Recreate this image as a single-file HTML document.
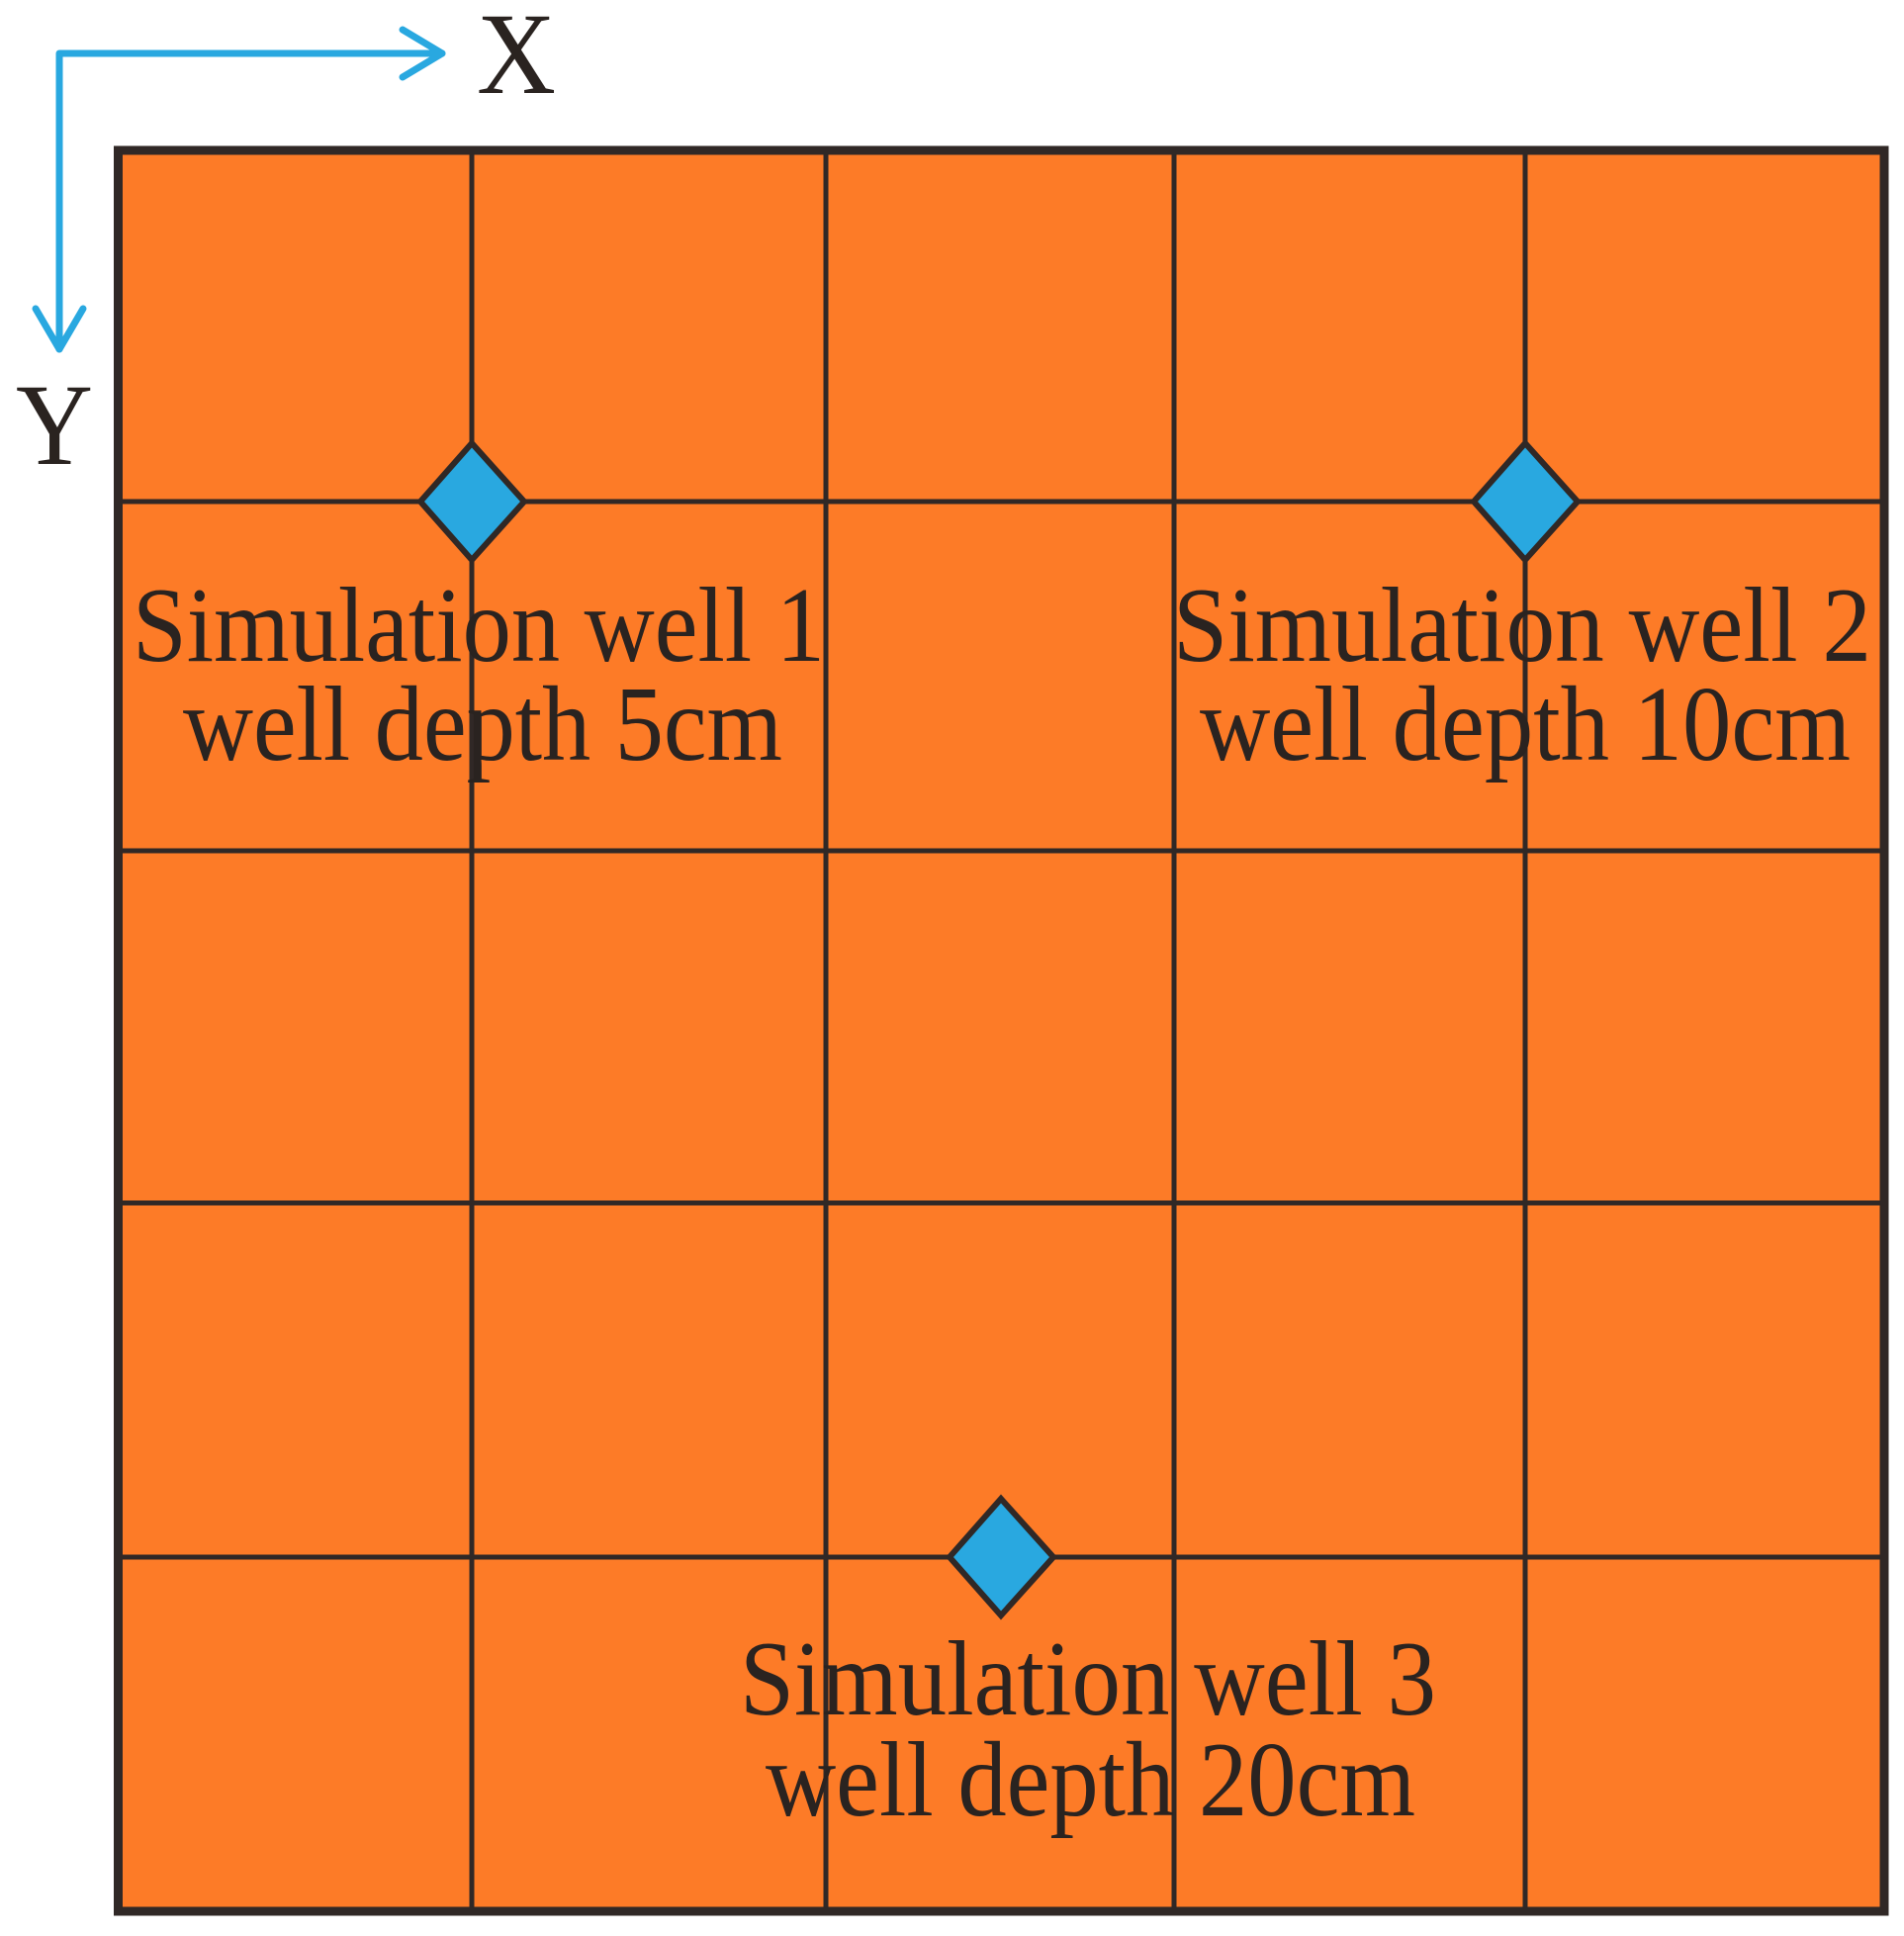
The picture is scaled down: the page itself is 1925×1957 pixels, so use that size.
<!DOCTYPE html>
<html><head><meta charset="utf-8"><style>html,body{margin:0;padding:0;background:#fff}svg{display:block}</style></head>
<body>
<svg width="1925" height="1957" viewBox="0 0 1925 1957" xmlns="http://www.w3.org/2000/svg">
<rect x="0" y="0" width="1925" height="1957" fill="#fff"/>
<g fill="none" stroke="#29a8e0" stroke-width="7" stroke-linecap="round" stroke-linejoin="round">
<polyline points="447,54 60,54 60,353"/>
<polyline points="407,30 447,54 407,78"/>
<polyline points="36,312 60,353 84,312"/>
</g>
<g font-family="Liberation Serif, serif" fill="#2a2320">
<text x="482" y="94" font-size="118" textLength="80" lengthAdjust="spacingAndGlyphs">X</text>
<text x="16" y="469" font-size="118" textLength="78" lengthAdjust="spacingAndGlyphs">Y</text>
</g>
<rect x="119.5" y="152" width="1785.5" height="1780" fill="#fd7b27" stroke="#302826" stroke-width="9"/>
<g stroke="#302826" stroke-width="5">
<line x1="477" y1="152" x2="477" y2="1932"/>
<line x1="835" y1="152" x2="835" y2="1932"/>
<line x1="1187" y1="152" x2="1187" y2="1932"/>
<line x1="1542" y1="152" x2="1542" y2="1932"/>
<line x1="119" y1="507" x2="1905" y2="507"/>
<line x1="119" y1="860" x2="1905" y2="860"/>
<line x1="119" y1="1216" x2="1905" y2="1216"/>
<line x1="119" y1="1574" x2="1905" y2="1574"/>
</g>
<g fill="#29a8e0" stroke="#302826" stroke-width="6" stroke-linejoin="miter">
<polygon points="477,448 530,507 477,566 425,507"/>
<polygon points="1542,448 1595,507 1542,566 1490,507"/>
<polygon points="1012,1515 1065,1574 1012,1633 960,1574"/>
</g>
<g font-family="Liberation Serif, serif" fill="#2a2320" font-size="108">
<text x="134" y="668" textLength="700" lengthAdjust="spacingAndGlyphs">Simulation well 1</text>
<text x="185" y="768" textLength="606" lengthAdjust="spacingAndGlyphs">well depth 5cm</text>
<text x="1186" y="668" textLength="706" lengthAdjust="spacingAndGlyphs">Simulation well 2</text>
<text x="1213" y="768" textLength="658" lengthAdjust="spacingAndGlyphs">well depth 10cm</text>
<text x="748" y="1733" textLength="704" lengthAdjust="spacingAndGlyphs">Simulation well 3</text>
<text x="774" y="1835" textLength="657" lengthAdjust="spacingAndGlyphs">well depth 20cm</text>
</g>
</svg>
</body></html>
